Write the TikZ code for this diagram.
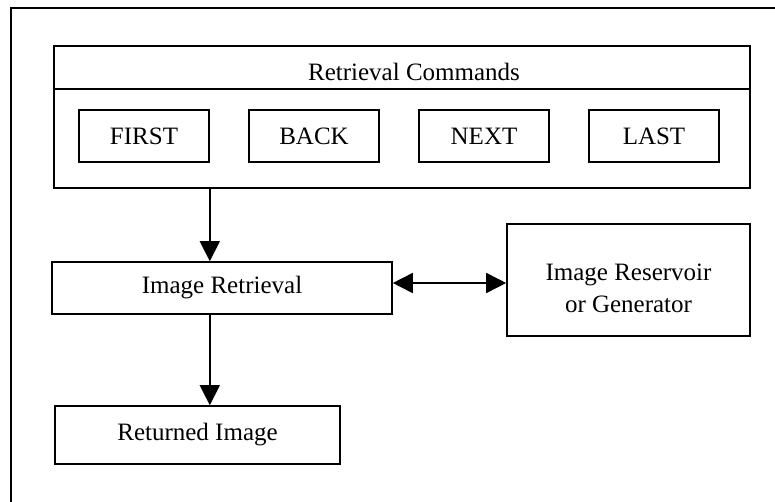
\documentclass[tikz,border=0pt]{standalone}
\usepackage{fontspec}
\setmainfont{Liberation Serif}
\usetikzlibrary{arrows.meta}

\begin{document}
\begin{tikzpicture}[x=0.5pt, y=-0.5pt]
    % ===================================
    % settings
    % ===================================
    \def\bw{65pt}   % width of a command button
    \def\bh{26pt}   % height of a command button
    \def\gap{170}   % distance between buttons

    \tikzset{
        box/.style={draw, line width=0.8pt, inner sep=0pt},
        lbl/.style={font=\fontsize{12.5}{16}\selectfont, inner sep=0pt, align=center},
        arr/.style={line width=0.8pt, -{Triangle[length=10pt, width=10pt]}},
        darr/.style={line width=0.8pt, {Triangle[length=10pt, width=10pt]}-{Triangle[length=10pt, width=10pt]}}
    }
    % ===================================

    \useasboundingbox (0,0) rectangle (775,502);

    % frame (top and left edge only)
    \coordinate (fbl) at (11,502);
    \coordinate (ftl) at (11,8);
    \coordinate (ftr) at (775,8);
    \draw[line width=0.8pt] (fbl) -- (ftl) -- (ftr);

    % 1. retrieval commands
    \node[box, minimum width=348pt, minimum height=71pt] (cmds) at (402,117) {};
    \node[box, minimum width=348pt, minimum height=21.5pt] (band) at (402,67.5) {};
    \node[lbl] (title) at (414,72) {Retrieval Commands};

    % buttons
    \foreach \n/\t [count=\i] in {first/FIRST, back/BACK, next/NEXT, last/LAST} {
        \node[box, lbl, minimum width=\bw, minimum height=\bh] (\n) at ({144+\gap*(\i-1)},136) {\t};
    }

    % 2. image retrieval and the reservoir
    \node[box, lbl, minimum width=170pt, minimum height=26pt] (retr) at (222,288) {Image Retrieval};
    \node[box, minimum width=121.5pt, minimum height=56pt] (res) at (628.5,280) {};
    \node[lbl] (restext) at (628.5,288) {Image Reservoir\\or Generator};

    % 3. returned image
    \node[box, lbl, minimum width=142.5pt, minimum height=29pt] (ret) at (197.5,435) {Returned Image};

    % connectors
    \coordinate (mid) at (450,283);
    \draw[arr] (cmds.south -| first.east) -- (retr.north -| first.east);
    \draw[arr] (retr.south -| first.east) -- (ret.north -| first.east);
    \draw[darr] (retr.east |- mid) -- (res.west |- mid);

\end{tikzpicture}
\end{document}
